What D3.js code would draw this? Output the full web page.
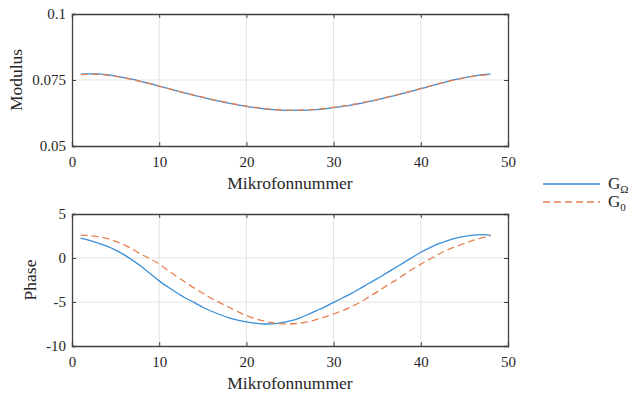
<!DOCTYPE html>
<html>
<head>
<meta charset="utf-8">
<script src="https://cdn.jsdelivr.net/npm/d3@7"></script>
<style>
  body { margin: 0; background: #fff; }
  #chart, #chart text { font-family: "Liberation Serif", "Times New Roman", serif; }
  #chart text { fill: #262626; }
</style>
</head>
<body>
<svg id="chart" width="632" height="399"></svg>
<script>
// microphone index 1..48
const mics = d3.range(1, 49)

const modulusOmega = [
  0.0772, 0.0773, 0.0773, 0.0770, 0.0765, 0.0759, 0.0752, 0.0744, 0.0736, 0.0727,
  0.0718, 0.0709, 0.0700, 0.0692, 0.0684, 0.0676, 0.0669, 0.0662, 0.0656, 0.0650,
  0.0645, 0.0641, 0.0638, 0.0636, 0.0635, 0.0635, 0.0636, 0.0638, 0.0641, 0.0645,
  0.0650, 0.0655, 0.0661, 0.0668, 0.0675, 0.0683, 0.0691, 0.0699, 0.0708, 0.0717,
  0.0726, 0.0735, 0.0744, 0.0752, 0.0759, 0.0765, 0.0770, 0.0772
]
const modulusZero = [
  0.0770, 0.0771, 0.0771, 0.0768, 0.0764, 0.0758, 0.0751, 0.0743, 0.0735, 0.0727,
  0.0718, 0.0709, 0.0701, 0.0693, 0.0685, 0.0677, 0.0670, 0.0663, 0.0657, 0.0651,
  0.0646, 0.0642, 0.0639, 0.0637, 0.0636, 0.0636, 0.0637, 0.0639, 0.0642, 0.0646,
  0.0651, 0.0656, 0.0662, 0.0669, 0.0676, 0.0684, 0.0692, 0.0700, 0.0709, 0.0718,
  0.0727, 0.0736, 0.0744, 0.0751, 0.0758, 0.0764, 0.0768, 0.0770
]
const phaseOmega = [
  2.27, 2.0, 1.7, 1.35, 0.9, 0.35, -0.3, -1.0, -1.8, -2.6,
  -3.3, -3.95, -4.55, -5.05, -5.6, -6.05, -6.45, -6.8, -7.05, -7.25,
  -7.4, -7.5, -7.48, -7.35, -7.15, -6.85, -6.45, -6.0, -5.55, -5.05,
  -4.55, -4.05, -3.5, -2.9, -2.35, -1.75, -1.15, -0.55, 0.05, 0.65,
  1.15, 1.6, 1.95, 2.25, 2.45, 2.6, 2.65, 2.6
]
const phaseZero = [
  2.6, 2.55, 2.42, 2.22, 1.9, 1.5, 0.95, 0.4, -0.1, -0.68,
  -1.4, -2.1, -2.75, -3.4, -4.0, -4.6, -5.1, -5.6, -6.1, -6.55,
  -6.9, -7.15, -7.35, -7.48, -7.5, -7.42, -7.25, -7.0, -6.7, -6.36,
  -6.0, -5.55, -5.05, -4.45, -3.85, -3.2, -2.6, -1.95, -1.3, -0.7,
  -0.15, 0.4, 0.9, 1.3, 1.65, 2.0, 2.3, 2.5
]

const xTicks = [0, 10, 20, 30, 40, 50]
const modTicks = [0.05, 0.075, 0.1]
const phaseTicks = [-10, -5, 0, 5]

const seriesNames = ['Ω', '0']
const colors = ['#3a8fd9', '#e8804f']
const dashes = [null, '7,4']

const svg = d3.select('#chart')

const left = 72, right = 508

const x = d3.scaleLinear().domain([0, 50]).range([left, right])

function panel (top, bottom, domain, ticks, fmt, label, labelX, series) {
  const y = d3.scaleLinear().domain(domain).range([bottom, top])
  const g = svg.append('g')

  // grid
  g.selectAll('.gx').data(xTicks.slice(1, -1)).enter().append('line')
    .attr('x1', d => x(d)).attr('x2', d => x(d))
    .attr('y1', top).attr('y2', bottom)
    .attr('stroke', '#e3e3e3').attr('stroke-width', 1)
  g.selectAll('.gy').data(ticks.slice(1, -1)).enter().append('line')
    .attr('x1', left).attr('x2', right)
    .attr('y1', d => y(d)).attr('y2', d => y(d))
    .attr('stroke', '#e3e3e3').attr('stroke-width', 1)

  // lines
  series.forEach((vals, i) => {
    g.append('path')
      .datum(vals)
      .attr('fill', 'none')
      .attr('stroke', colors[i])
      .attr('stroke-width', 1.3)
      .attr('stroke-dasharray', dashes[i])
      .attr('d', d3.line().curve(d3.curveMonotoneX).x((d, j) => x(mics[j])).y(d => y(d)))
  })

  // axes
  const xa = g.append('g').attr('transform', `translate(0,${bottom})`)
    .call(d3.axisBottom(x).tickValues(xTicks).tickSize(-4).tickPadding(10))
  const xt = g.append('g').attr('transform', `translate(0,${top})`)
    .call(d3.axisTop(x).tickValues(xTicks).tickSize(-4).tickFormat(''))
  const ya = g.append('g').attr('transform', `translate(${left},0)`)
    .call(d3.axisLeft(y).tickValues(ticks).tickSize(-4).tickPadding(6).tickFormat(fmt))
  const yr = g.append('g').attr('transform', `translate(${right},0)`)
    .call(d3.axisRight(y).tickValues(ticks).tickSize(-4).tickFormat(''))

  ;[xa, xt, ya, yr].forEach(a => {
    a.attr('font-family', null)
    a.select('.domain').attr('stroke', '#404040').attr('stroke-width', 1.3)
    a.selectAll('.tick line').attr('stroke', '#404040')
    a.selectAll('text').attr('font-size', 15).attr('fill', '#262626')
  })
  xa.selectAll('text').attr('dy', '0.71em')

  g.append('text')
    .attr('x', (left + right) / 2).attr('y', bottom + 43)
    .attr('text-anchor', 'middle').attr('font-size', 17.5)
    .text('Mikrofonnummer')

  g.append('text')
    .attr('transform', `translate(${labelX},${(top + bottom) / 2}) rotate(-90)`)
    .attr('text-anchor', 'middle').attr('font-size', 17.5)
    .text(label)
}

panel(14, 146, [0.05, 0.1], modTicks, d => String(d), 'Modulus', 22,
  [modulusOmega, modulusZero])
panel(214, 346, [-10, 5], phaseTicks, d => String(d), 'Phase', 36,
  [phaseOmega, phaseZero])

// legend
const legend = svg.append('g')
seriesNames.forEach((name, i) => {
  const ly = 184 + i * 18
  legend.append('line')
    .attr('x1', 543).attr('x2', 600).attr('y1', ly).attr('y2', ly)
    .attr('stroke', colors[i]).attr('stroke-width', 1.3)
    .attr('stroke-dasharray', dashes[i])
  const t = legend.append('text')
    .attr('x', 608).attr('y', ly + 5).attr('font-size', 17)
  t.append('tspan').text('G')
  t.append('tspan').attr('font-size', 11).attr('dy', 4).text(name)
})
</script>
</body>
</html>
